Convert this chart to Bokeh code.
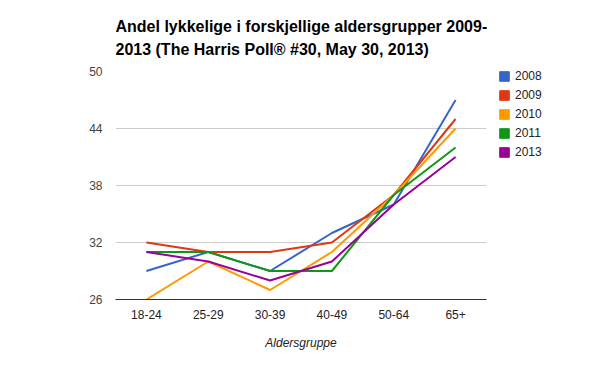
from bokeh.plotting import figure
from bokeh.models import (FactorRange, Range1d, FixedTicker, Legend, LegendItem,
                          Title, ColumnDataSource)
from bokeh.embed import file_html
from bokeh.resources import INLINE

ages = ["18-24", "25-29", "30-39", "40-49", "50-64", "65+"]
years = ["2008", "2009", "2010", "2011", "2013"]
v2008 = [29, 31, 29, 33, 36, 47]
v2009 = [32, 31, 31, 32, 37, 45]
v2010 = [26, 30, 27, 31, 37, 44]
v2011 = [31, 31, 29, 29, 37, 42]
v2013 = [31, 30, 28, 30, 36, 41]
y_ticks = [26, 32, 38, 44, 50]
title_lines = ["Andel lykkelige i forskjellige aldersgrupper 2009-",
               "2013 (The Harris Poll® #30, May 30, 2013)"]

series = [v2008, v2009, v2010, v2011, v2013]
colors = ["#3366cc", "#dc3912", "#ff9900", "#109618", "#990099"]
FONT = "Liberation Sans"

p = figure(x_range=FactorRange(factors=ages), y_range=Range1d(26, 50),
           width=600, height=371,
           frame_width=371, frame_height=228,
           min_border_left=115, min_border_right=114, min_border_top=71,
           min_border_bottom=72,
           output_backend="svg", toolbar_location=None)
p.outline_line_color = None
p.background_fill_color = "white"
p.border_fill_color = "white"

t = Title(text="\n".join(title_lines), align="left",
          text_font=FONT, text_font_size="16px", text_font_style="bold",
          text_color="#000000", standoff=27, offset=0, text_line_height=1.35)
p.add_layout(t, "above")

items = []
for vals, c, yr in zip(series, colors, years):
    src = ColumnDataSource(dict(x=ages, y=vals))
    p.line("x", "y", source=src, line_color=c, line_width=2)
    r = p.rect("x", "y", width=0.1, height=1, source=src,
               fill_color=c, line_color=c)
    r.visible = False
    items.append(LegendItem(label=yr, renderers=[r]))

legend = Legend(items=items, location=(12, 140), orientation="vertical",
                border_line_color=None, background_fill_alpha=0,
                label_text_font=FONT, label_text_font_size="12px",
                label_text_color="#222222", glyph_width=12, glyph_height=12,
                label_height=12, label_standoff=5, spacing=5, padding=0,
                margin=0, label_text_baseline="middle",
                inactive_fill_alpha=0)
p.add_layout(legend, "right")

p.yaxis.ticker = FixedTicker(ticks=y_ticks)
p.yaxis.axis_line_color = None
p.yaxis.major_tick_line_color = None
p.yaxis.minor_tick_line_color = None
p.yaxis.major_label_standoff = 7
p.yaxis.major_label_text_font = FONT
p.yaxis.major_label_text_font_size = "12px"
p.yaxis.major_label_text_color = "#444444"

p.xaxis.axis_line_color = "#333333"
p.xaxis.axis_line_width = 1
p.xaxis.major_tick_line_color = None
p.xaxis.minor_tick_line_color = None
p.xaxis.major_label_standoff = 4
p.xaxis.major_label_text_font = FONT
p.xaxis.major_label_text_font_size = "12px"
p.xaxis.major_label_text_color = "#222222"
p.xaxis.axis_label = "Aldersgruppe"
p.xaxis.axis_label_text_font = FONT
p.xaxis.axis_label_text_font_size = "12px"
p.xaxis.axis_label_text_font_style = "italic"
p.xaxis.axis_label_text_color = "#222222"
p.xaxis.axis_label_standoff = 14

p.xgrid.grid_line_color = None
p.ygrid.grid_line_color = "#cccccc"
p.ygrid.grid_line_width = 1

open("out.html", "w").write(file_html(p, INLINE))
